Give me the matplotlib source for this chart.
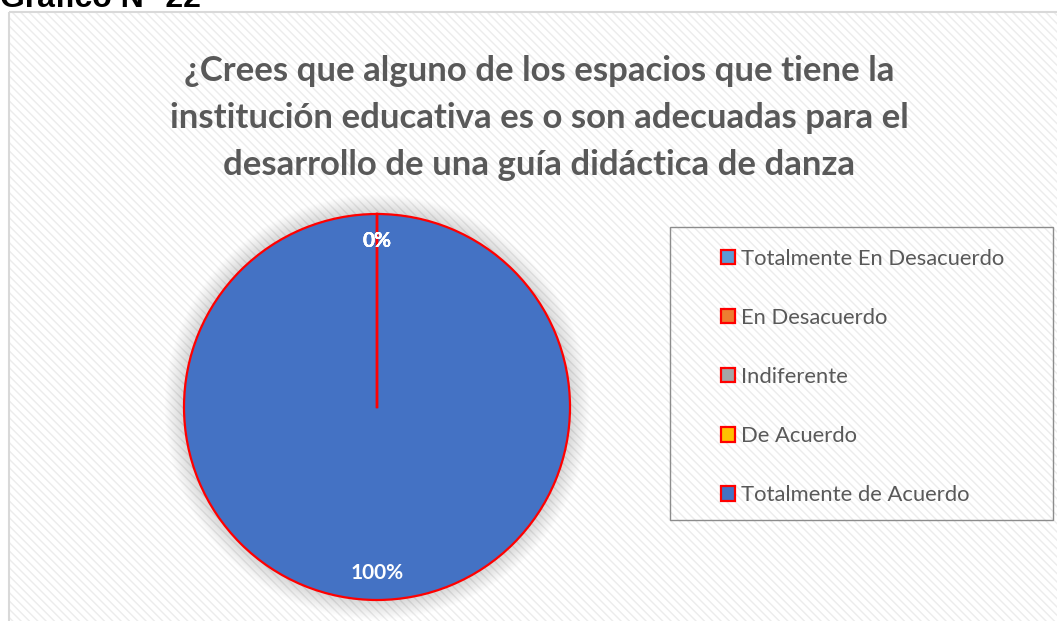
import matplotlib
matplotlib.use('Agg')
import numpy as np
import matplotlib.pyplot as plt
from matplotlib.patches import Rectangle, Circle

# ─── Data ─────────────────────────────────────────────────────────────────────
CATEGORIES = ['Totalmente En Desacuerdo', 'En Desacuerdo', 'Indiferente',
              'De Acuerdo', 'Totalmente de Acuerdo']
VALUES     = [0, 0, 0, 0, 100]
COLORS     = ['#5B9BD5', '#ED7D31', '#A5A5A5', '#FFC000', '#4472C4']

TITLE   = ('¿Crees que alguno de los espacios que tiene la\n'
           'institución educativa es o son adecuadas para el\n'
           'desarrollo de una guía didáctica de danza')
CAPTION = 'Gráfico N° 22'

W, H = 1057, 621
TEXT_GRAY = '#595959'
FONT = ['Lato', 'DejaVu Sans']


def px(x0, y0, x1, y1):
    """pixel box (top-left origin) → figure fraction rect"""
    return [x0 / W, 1 - y1 / H, (x1 - x0) / W, (y1 - y0) / H]


fig = plt.figure(figsize=(W / 100, H / 100), dpi=100)
fig.patch.set_facecolor('white')

# chart area: hatched background + thin border (runs off the right/bottom edge)
bg = fig.add_axes([0, 0, 1, 1])
bg.set_xlim(0, W)
bg.set_ylim(H, 0)
bg.axis('off')
bg.add_patch(Rectangle((9, 12), W + 20, H + 20, facecolor='white',
                       edgecolor='#ececec', hatch='\\\\\\\\', linewidth=0))
bg.add_patch(Rectangle((9, 12), W + 20, H + 20, facecolor='none',
                       edgecolor='#d9d9d9', linewidth=1.5))

# caption sits above the chart and is clipped by the page edge, as in the source
fig.text(0 / W, 1 - 7 / H, CAPTION, fontsize=23, fontweight='bold',
         family=['Liberation Sans', 'DejaVu Sans'], color='black',
         ha='left', va='baseline')

fig.text(539 / W, 1 - 118 / H, TITLE, fontsize=25, fontweight='bold',
         family=FONT, color=TEXT_GRAY, ha='center', va='center',
         linespacing=1.57)

# ─── Pie ──────────────────────────────────────────────────────────────────────
cx, cy, r = 377, 407, 193
ax = fig.add_axes(px(cx - r * 1.15, cy - r * 1.15, cx + r * 1.15, cy + r * 1.15))
ax.set_aspect('equal')
ax.axis('off')

# soft diffuse shadow around the pie
for i in range(20):
    ax.add_patch(Circle((0, 0), 1.0 + 0.005 * (20 - i), facecolor='#000000',
                        alpha=0.009, linewidth=0, zorder=0))

wedges, texts, autotexts = ax.pie(
    VALUES, colors=COLORS, startangle=90, counterclock=False,
    autopct='%1.0f%%', pctdistance=0.86,
    wedgeprops=dict(edgecolor='#FF0000', linewidth=1.6),
    textprops=dict(color='white', fontsize=15, fontweight='bold', family=FONT))
for w in wedges:
    w.set_zorder(2)
for t in autotexts:
    t.set_zorder(3)

# zero-size slices still leave their red border line from the centre
for w, v in zip(wedges, VALUES):
    if v == 0:
        a = np.deg2rad(w.theta1)
        ax.plot([0, np.cos(a)], [0, np.sin(a)], color='#FF0000',
                linewidth=1.6, zorder=2.5)
ax.set_xlim(-1.15, 1.15)
ax.set_ylim(-1.15, 1.15)

# ─── Legend ───────────────────────────────────────────────────────────────────
bg.add_patch(Rectangle((670, 227), 383, 293, facecolor='none',
                       edgecolor='#8c8c8c', linewidth=1.0))
leg = fig.legend(wedges, CATEGORIES, loc='upper left',
                 bbox_to_anchor=(710 / W, 1 - 238 / H),
                 frameon=False, prop=dict(family=FONT, size=15.8),
                 labelcolor=TEXT_GRAY, handlelength=0.62, handleheight=0.62,
                 handletextpad=0.3, labelspacing=1.78, borderpad=0)

fig.savefig('out.png', dpi=100)
